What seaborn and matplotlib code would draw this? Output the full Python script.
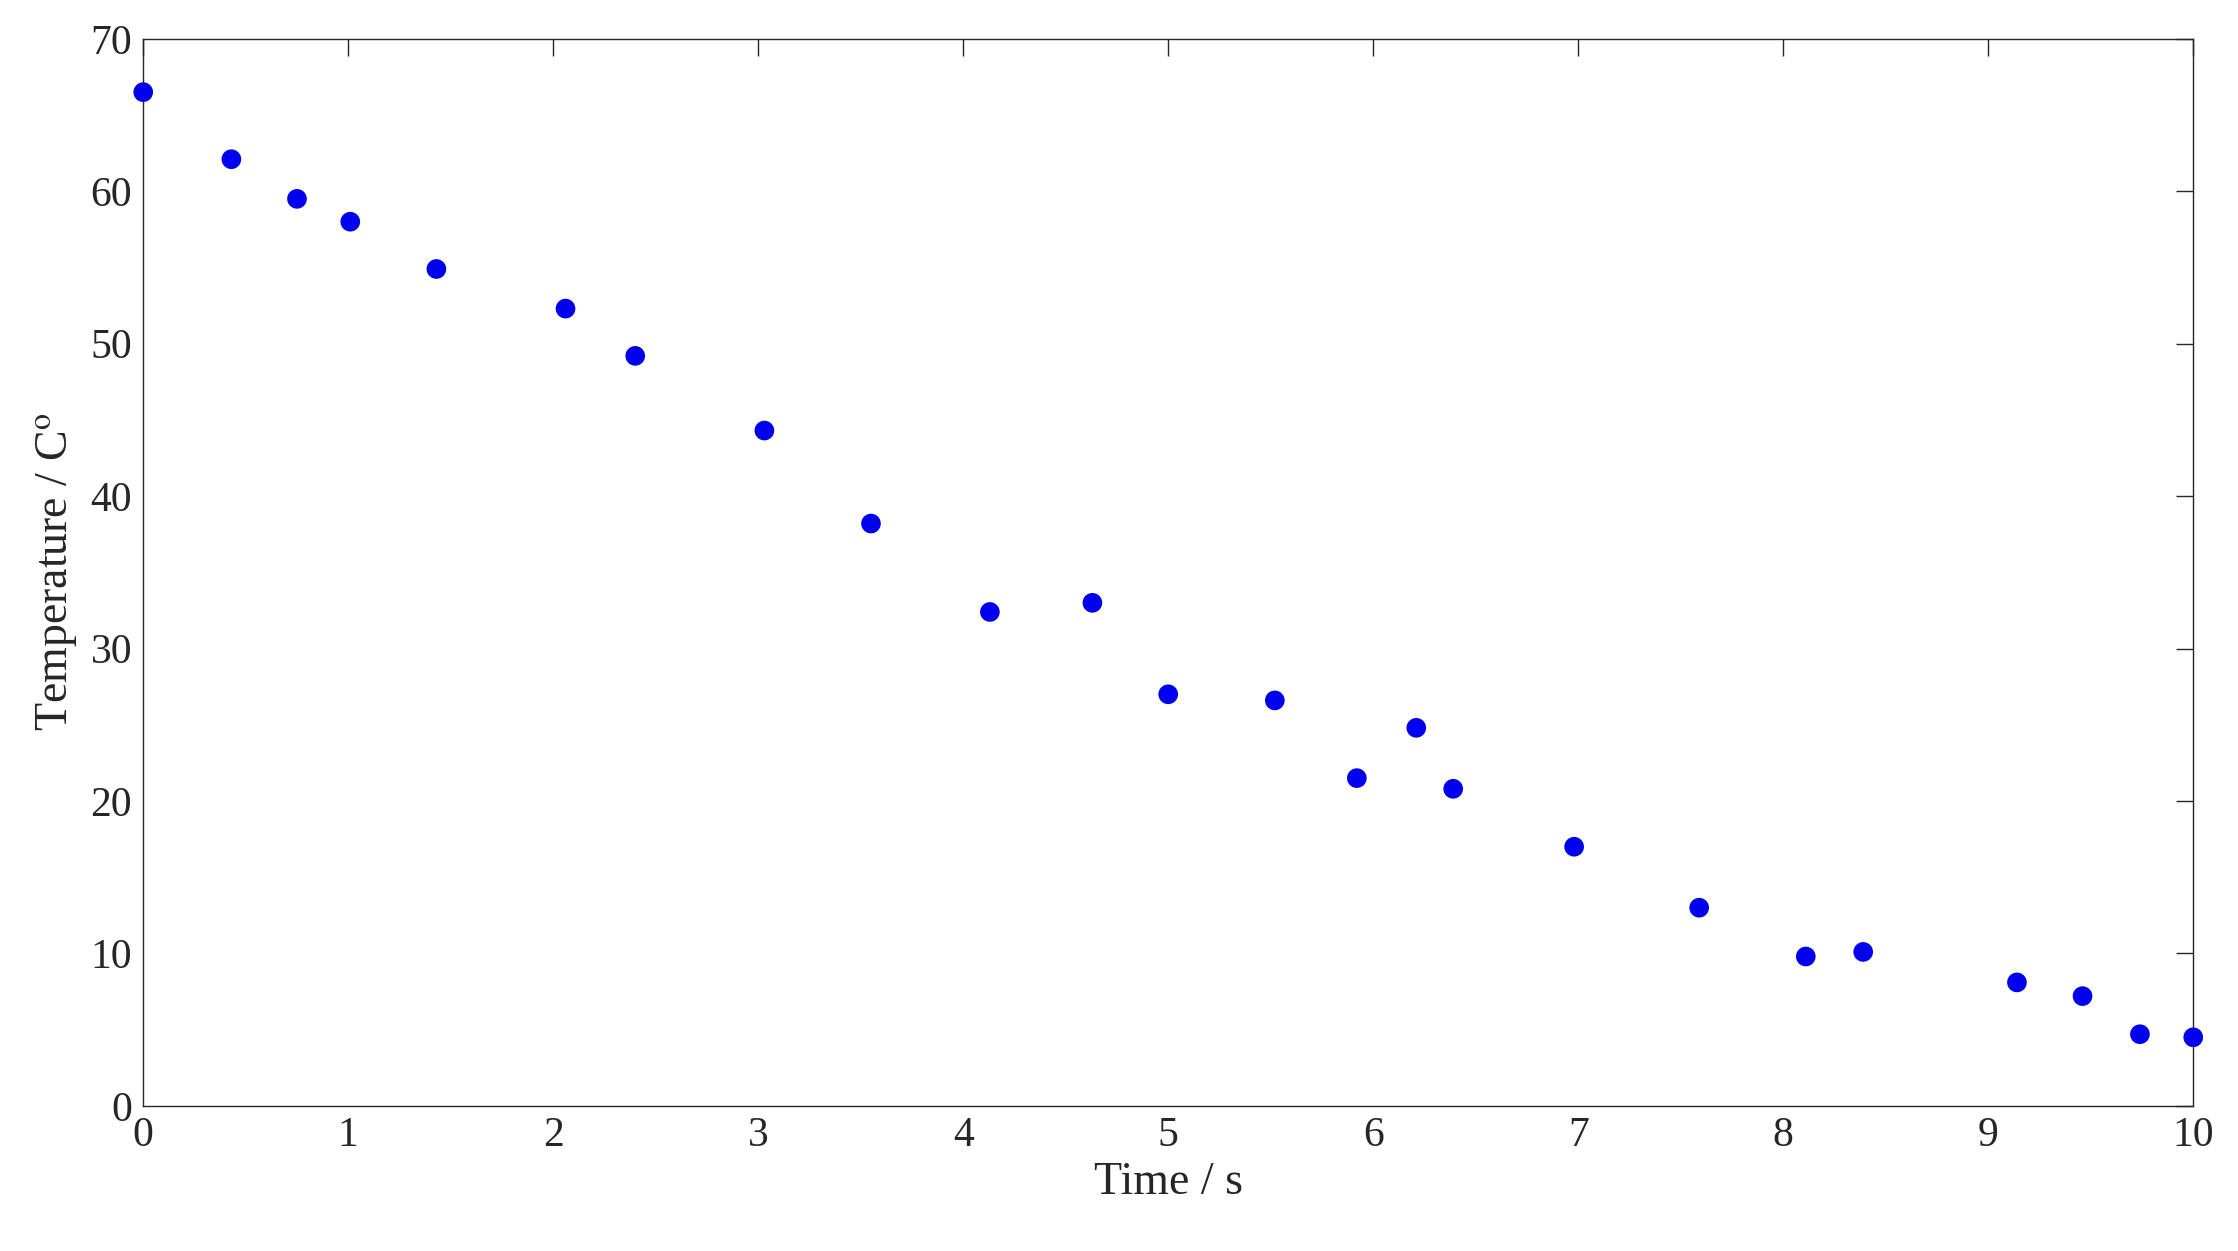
import matplotlib
matplotlib.use("Agg")
import matplotlib.pyplot as plt
import seaborn as sns
import pandas as pd

time_s = [0.0, 0.43, 0.75, 1.01, 1.43, 2.06, 2.40, 3.03, 3.55, 4.13, 4.63, 5.00, 5.52, 5.92,
          6.21, 6.39, 6.98, 7.59, 8.11, 8.39, 9.14, 9.46, 9.74, 10.0]
temp_c = [66.5, 62.1, 59.5, 58.0, 54.9, 52.3, 49.2, 44.3, 38.2, 32.4, 33.0, 27.0, 26.6, 21.5,
          24.8, 20.8, 17.0, 13.0, 9.8, 10.1, 8.1, 7.2, 4.7, 4.5]
df = pd.DataFrame({"t": time_s, "T": temp_c})

sns.set_theme(style="white")
plt.rcParams['font.family'] = ['Liberation Serif', 'DejaVu Serif']
plt.rcParams['mathtext.fontset'] = 'stix'

fig = plt.figure(figsize=(22.38, 12.51), dpi=100)
ax = fig.add_axes([0.064, 0.116, 0.916, 0.853])
sns.scatterplot(data=df, x="t", y="T", ax=ax, color="#0000ee", s=200, edgecolor="none",
                clip_on=False, zorder=3)
ax.set_xlim(0, 10)
ax.set_ylim(0, 70)
ax.set_xticks(range(0, 11))
ax.set_yticks(range(0, 71, 10))
ax.tick_params(direction="in", length=12, width=1, labelsize=30, top=True, right=True,
               colors="#262626", pad=8)
for s in ax.spines.values():
    s.set_color("#262626"); s.set_linewidth(1)
ax.set_xlabel("Time / s", fontsize=33, color="#262626", labelpad=4)
ax.set_ylabel("Temperature / C$^{\\mathrm{o}}$", fontsize=33, color="#262626", labelpad=8)
fig.savefig("out.png", dpi=100)
